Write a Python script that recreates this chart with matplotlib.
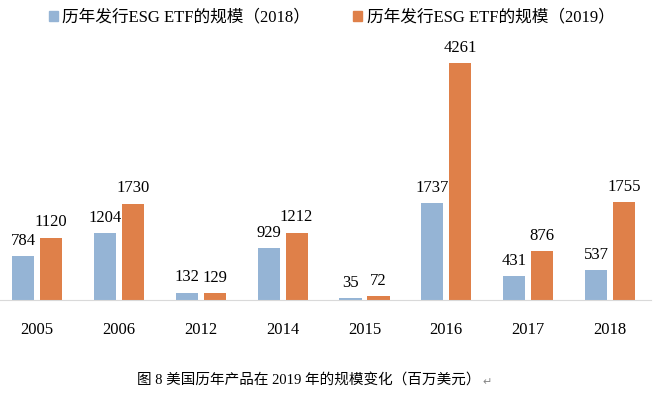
import numpy as np
import matplotlib.pyplot as plt
from matplotlib.patches import Patch

plt.rcParams['font.family'] = ['Liberation Serif', 'Noto Sans CJK SC', 'DejaVu Sans']

# Data
years = ['2005', '2006', '2012', '2014', '2015', '2016', '2017', '2018']
size_2018 = [784, 1204, 132, 929, 35, 1737, 431, 537]
size_2019 = [1120, 1730, 129, 1212, 72, 4261, 876, 1755]
labels = ['历年发行ESG ETF的规模（2018）', '历年发行ESG ETF的规模（2019）']
caption = '图 8 美国历年产品在 2019 年的规模变化（百万美元）'

blue = '#95B4D5'
orange = '#DF8049'

fig = plt.figure(figsize=(6.63, 3.94), dpi=100)
ax = fig.add_axes([-0.006, 0.2386, 0.988, 0.65])

x = np.arange(len(years))
w = 0.27
off = 0.171
ax.bar(x - off, size_2018, w, color=blue)
ax.bar(x + off, size_2019, w, color=orange)

for i in range(len(years)):
    ax.text(x[i] - off, size_2018[i] + 130, str(size_2018[i]), ha='center', va='bottom', fontsize=12)
    ax.text(x[i] + off, size_2019[i] + 130, str(size_2019[i]), ha='center', va='bottom', fontsize=12)

ax.set_xlim(-0.5, 7.5)
ax.set_ylim(0, 4600)
ax.set_xticks(x)
ax.set_xticklabels(years, fontsize=12)
ax.tick_params(axis='x', length=0, pad=16)
ax.set_yticks([])
for s in ['top', 'right', 'left']:
    ax.spines[s].set_visible(False)
ax.spines['bottom'].set_color('#D9D9D9')

handles = [Patch(color=blue), Patch(color=orange)]
fig.legend(handles, labels, loc='center', bbox_to_anchor=(0.5, 0.955), ncol=2, frameon=False,
           fontsize=12, handlelength=0.55, handleheight=0.55, handletextpad=0.25, columnspacing=2.6)

fig.text(0.465, 0.033, caption, ha='center', va='center', fontsize=10.5)
fig.text(0.735, 0.031, '↵', ha='center', va='center', fontsize=8, color='#888888', family='DejaVu Sans')

fig.savefig('out.png', dpi=100)
